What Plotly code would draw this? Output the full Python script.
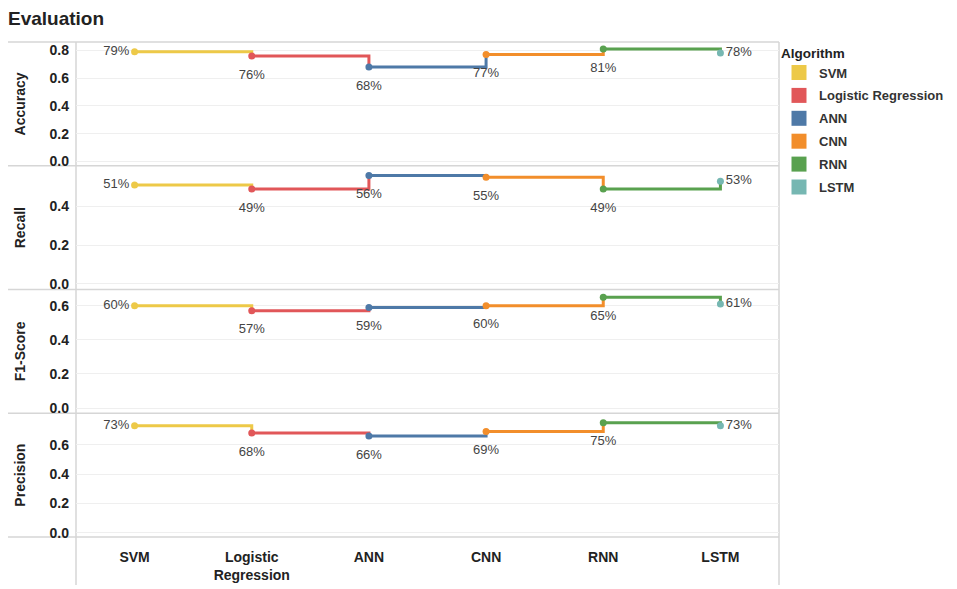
import plotly.graph_objects as go
from plotly.subplots import make_subplots

algorithms = ["SVM", "Logistic Regression", "ANN", "CNN", "RNN", "LSTM"]
tick_labels = ["SVM", "Logistic<br>Regression", "ANN", "CNN", "RNN", "LSTM"]
colors = ["#EDC948", "#E15759", "#4E79A7", "#F28E2B", "#59A14F", "#76B7B2"]

metrics = ["Accuracy", "Recall", "F1-Score", "Precision"]
accuracy = [0.79, 0.76, 0.68, 0.77, 0.81, 0.78]
recall = [0.51, 0.49, 0.56, 0.55, 0.49, 0.53]
f1_score = [0.60, 0.57, 0.59, 0.60, 0.65, 0.61]
precision = [0.73, 0.68, 0.66, 0.69, 0.75, 0.73]
series = [accuracy, recall, f1_score, precision]

y_ranges = [[-0.03, 0.86], [-0.03, 0.61], [-0.03, 0.695], [-0.03, 0.815]]
y_ticks = [[0, 0.2, 0.4, 0.6, 0.8], [0, 0.2, 0.4], [0, 0.2, 0.4, 0.6], [0, 0.2, 0.4, 0.6]]

FONT = "Liberation Sans"
# page has an 8px body margin; the figure is sized to fill the rest of the window
W, H = 949, 581
ML, MR, MT, MB = 68, 178, 34, 52

fig = make_subplots(rows=4, cols=1, shared_xaxes=True, vertical_spacing=0)

n = len(algorithms)
text_pos = ["middle left"] + ["bottom center"] * (n - 2) + ["middle right"]
label_sizes = [7] + [19] * (n - 2) + [7]

for r, vals in enumerate(series, start=1):
    for k in range(n - 1):
        fig.add_trace(go.Scatter(
            x=[algorithms[k], algorithms[k + 1]], y=[vals[k], vals[k + 1]],
            mode="lines", line=dict(color=colors[k], width=3, shape="hv"),
            showlegend=False, hoverinfo="skip"), row=r, col=1)
    fig.add_trace(go.Scatter(
        x=algorithms, y=vals, mode="markers+text",
        texttemplate="%{y:.0%}", textposition=text_pos,
        marker=dict(size=label_sizes, opacity=0, color="white", line=dict(width=0)),
        textfont=dict(family=FONT, size=13, color="#444"),
        showlegend=False, hoverinfo="skip", cliponaxis=False), row=r, col=1)
    fig.add_trace(go.Scatter(
        x=algorithms, y=vals, mode="markers",
        marker=dict(color=colors, size=7, line=dict(width=0)),
        showlegend=False, cliponaxis=False), row=r, col=1)

# legend entries
for k, a in enumerate(algorithms):
    fig.add_trace(go.Scatter(
        x=[None], y=[None], mode="markers", name=a, legendgroup=a,
        marker=dict(color=colors[k], size=15, symbol="square")), row=1, col=1)

for r in range(1, 5):
    fig.update_yaxes(row=r, col=1, range=y_ranges[r - 1], tickvals=y_ticks[r - 1],
                     tickformat=".1f", showgrid=True, gridcolor="#efefef", gridwidth=1,
                     zeroline=False, showline=False, ticks="", automargin=False,
                     ticklabelstandoff=6,
                     tickfont=dict(family=FONT, size=14, color="#222", weight="bold"),
                     title=dict(text=metrics[r - 1], standoff=20,
                                font=dict(family=FONT, size=14, color="#222", weight="bold")),
                     fixedrange=True)
    fig.update_xaxes(row=r, col=1, type="category", categoryorder="array",
                     categoryarray=algorithms, range=[-0.5, n - 0.5], automargin=False,
                     showgrid=False, zeroline=False, showline=False, ticks="")

fig.update_xaxes(row=4, col=1, tickvals=algorithms, ticktext=tick_labels,
                 tickfont=dict(family=FONT, size=14, color="#222", weight="bold"),
                 ticklabelstandoff=10)

plot_w = W - ML - MR
plot_h = H - MT - MB
left_px = -ML / plot_w
bottom_ext = -48 / plot_h

shapes = []
line_col = "#d6d6d6"
bounds = [fig.layout[f"yaxis{'' if i == 1 else i}"].domain for i in range(1, 5)]
ys = sorted(set([b[0] for b in bounds] + [b[1] for b in bounds]))
for yv in ys:
    shapes.append(dict(type="line", xref="paper", yref="paper", x0=left_px, x1=1,
                       y0=yv, y1=yv, line=dict(color=line_col, width=1.5), layer="below"))
for xv in (0, 1):
    shapes.append(dict(type="line", xref="paper", yref="paper", x0=xv, x1=xv,
                       y0=bottom_ext, y1=1, line=dict(color=line_col, width=1.5), layer="below"))

fig.update_layout(
    width=W, height=H,
    margin=dict(l=ML, r=MR, t=MT, b=MB, autoexpand=False),
    paper_bgcolor="white", plot_bgcolor="white",
    shapes=shapes,
    title=dict(text="Evaluation", x=0, xref="container", xanchor="left",
               y=1 - 10 / H, yref="container", yanchor="middle", automargin=False,
               font=dict(family=FONT, size=19, color="#222", weight="bold")),
    legend=dict(x=(779 - 8 - ML) / plot_w, y=1 + 2 / plot_h, xanchor="left", yanchor="top",
                title=dict(text="Algorithm", font=dict(family=FONT, size=13.5, color="#222", weight="bold")),
                font=dict(family=FONT, size=13, color="#333", weight="bold"),
                tracegroupgap=3, itemwidth=30, bgcolor="rgba(0,0,0,0)"),
    showlegend=True,
)

fig.write_html("out.html")
